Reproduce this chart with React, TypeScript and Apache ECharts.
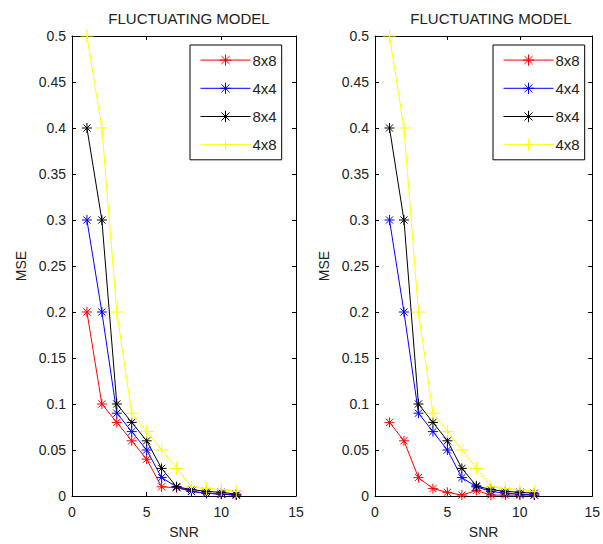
import React, { useEffect, useRef } from "react";
import * as echarts from "echarts";

const snr = [1, 2, 3, 4, 5, 6, 7, 8, 9, 10, 11];
const seriesNames = ["8x8", "4x4", "8x4", "4x8"];
const seriesColors = ["#ff0000", "#0000ff", "#000000", "#ffff00"];

// Left panel
const left8x8 = [0.2, 0.1, 0.08, 0.06, 0.04, 0.01, 0.009, 0.005, 0.003, 0.002, 0.001];
const left4x4 = [0.3, 0.2, 0.09, 0.07, 0.05, 0.02, 0.01, 0.005, 0.003, 0.002, 0.001];
const left8x4 = [0.4, 0.3, 0.1, 0.08, 0.06, 0.03, 0.01, 0.007, 0.005, 0.004, 0.002];
const left4x8 = [0.5, 0.4, 0.2, 0.09, 0.07, 0.05, 0.03, 0.01, 0.008, 0.007, 0.005];

// Right panel
const right8x8 = [0.08, 0.06, 0.02, 0.008, 0.004, 0.001, 0.006, 0.001, 0.001, 0.001, 0.001];
const right4x4 = [0.3, 0.2, 0.09, 0.07, 0.05, 0.02, 0.01, 0.005, 0.003, 0.002, 0.001];
const right8x4 = [0.4, 0.3, 0.1, 0.08, 0.06, 0.03, 0.011, 0.007, 0.005, 0.004, 0.003];
const right4x8 = [0.5, 0.4, 0.2, 0.09, 0.07, 0.05, 0.03, 0.01, 0.008, 0.007, 0.005];

const titleText = "FLUCTUATING MODEL";
const xName = "SNR";
const yName = "MSE";

const ASTERISK = "path://M0,-5L0,5M-5,0L5,0M-3.6,-3.6L3.6,3.6M-3.6,3.6L3.6,-3.6";
const PLUS = "path://M0,-5L0,5M-5,0L5,0";

const FONT = "Liberation Sans, Arial, sans-serif";

export default function App() {
  const ref = useRef<HTMLDivElement>(null);
  useEffect(() => {
    if (!ref.current) return;
    const chart = echarts.init(ref.current, undefined, { renderer: "svg" });

    const grids = [
      { left: 72, top: 36, width: 224, height: 461 },
      { left: 375, top: 36, width: 223, height: 461 },
    ];

    const xAxes: any[] = [];
    const yAxes: any[] = [];
    [0, 1].forEach((g) => {
      const common = {
        type: "value",
        gridIndex: g,
        min: 0,
        max: 15,
        interval: 5,
        splitLine: { show: false },
        axisLine: { show: true, onZero: false, lineStyle: { color: "#000", width: 1 } },
        axisTick: { show: true, inside: true, length: 4, lineStyle: { color: "#000" } },
      };
      xAxes.push({
        ...common,
        position: "bottom",
        name: xName,
        nameLocation: "middle",
        nameGap: 29,
        nameTextStyle: { fontFamily: FONT, fontSize: 14, color: "#222" },
        axisLabel: { show: true, margin: 9, fontFamily: FONT, fontSize: 14, color: "#222" },
      });
      xAxes.push({ ...common, position: "top", axisLabel: { show: false } });
      const ycommon = {
        type: "value",
        gridIndex: g,
        min: 0,
        max: 0.5,
        interval: 0.05,
        splitLine: { show: false },
        axisLine: { show: true, onZero: false, lineStyle: { color: "#000", width: 1 } },
        axisTick: { show: true, inside: true, length: 4, lineStyle: { color: "#000" } },
      };
      yAxes.push({
        ...ycommon,
        position: "left",
        name: yName,
        nameLocation: "middle",
        nameGap: 44,
        nameTextStyle: { fontFamily: FONT, fontSize: 14, color: "#222" },
        axisLabel: { show: true, margin: 6, fontFamily: FONT, fontSize: 14, color: "#222" },
      });
      yAxes.push({ ...ycommon, position: "right", axisLabel: { show: false } });
    });

    const panels = [
      [left8x8, left4x4, left8x4, left4x8],
      [right8x8, right4x4, right8x4, right4x8],
    ];
    const series: any[] = [];
    panels.forEach((vals, g) => {
      vals.forEach((arr, i) => {
        series.push({
          type: "line",
          name: seriesNames[i],
          xAxisIndex: g * 2,
          yAxisIndex: g * 2,
          data: snr.map((x, k) => [x, arr[k]]),
          symbol: i === 3 ? PLUS : ASTERISK,
          symbolSize: i === 3 ? 13 : 10,
          showSymbol: true,
          lineStyle: { color: seriesColors[i], width: 1 },
          itemStyle: { color: "none", borderColor: seriesColors[i], borderWidth: 1 },
          emphasis: { disabled: true },
        });
      });
    });

    const legendCommon = {
      orient: "vertical",
      top: 45,
      padding: [7, 5, 7, 10],
      itemWidth: 50,
      itemHeight: 14,
      itemGap: 12,
      borderColor: "#000",
      borderWidth: 1,
      backgroundColor: "#fff",
      selectedMode: false,
      data: seriesNames,
      lineStyle: { width: 1 },
      itemStyle: { borderWidth: 1 },
      textStyle: { fontFamily: FONT, fontSize: 15, color: "#222", padding: [0, 0, 0, -3] },
    };

    chart.setOption({
      animation: false,
      backgroundColor: "#fff",
      title: [
        {
          text: titleText,
          left: 184,
          top: 6,
          textAlign: "center",
          textStyle: { fontFamily: FONT, fontSize: 15, fontWeight: "normal", color: "#222" },
        },
        {
          text: titleText,
          left: 486,
          top: 6,
          textAlign: "center",
          textStyle: { fontFamily: FONT, fontSize: 15, fontWeight: "normal", color: "#222" },
        },
      ],
      grid: grids,
      xAxis: xAxes,
      yAxis: yAxes,
      legend: [
        { ...legendCommon, left: 190 },
        { ...legendCommon, left: 493 },
      ],
      series,
    });
    return () => chart.dispose();
  }, []);
  return (
    <div
      ref={ref}
      style={{ position: "fixed", left: 0, top: 0, width: 603, height: 544, background: "#fff" }}
    />
  );
}
